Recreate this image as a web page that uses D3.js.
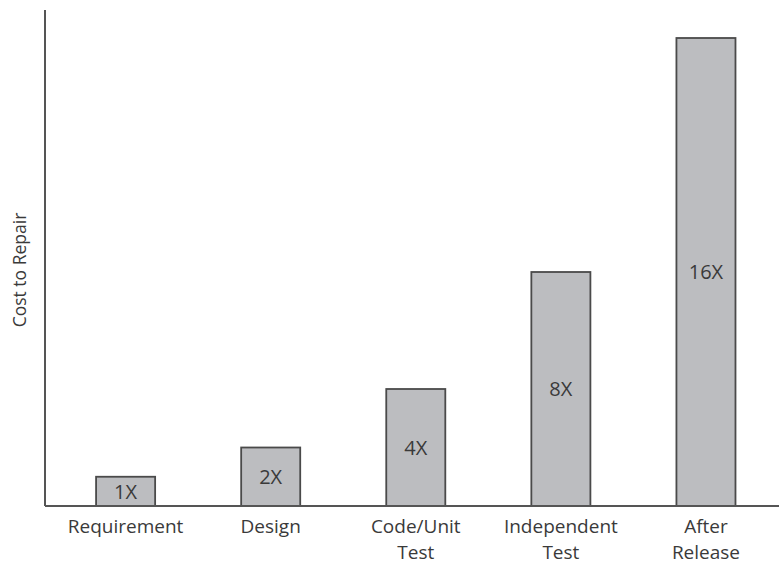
<!DOCTYPE html>
<html><head><meta charset="utf-8">
<script src="https://cdn.jsdelivr.net/npm/d3@7"></script>
<style>body{margin:0;background:#fff}svg{display:block}</style>
</head><body>
<svg id="c" width="779" height="565"></svg>
<script>
const categories = [["Requirement"], ["Design"], ["Code/Unit", "Test"], ["Independent", "Test"], ["After", "Release"]];
const values = [1, 2, 4, 8, 16];
const valueLabels = ["1X", "2X", "4X", "8X", "16X"];
const yTitle = "Cost to Repair";

const svg = d3.select("#c");
const font = "'Open Sans', sans-serif";
const x0 = 45, y0 = 506;
const x = d3.scaleBand().domain(d3.range(values.length)).range([x0, 779])
  .paddingInner(0.593).paddingOuter(0.326).align(0.54);
const y = d3.scaleLinear().domain([0, 16]).range([y0, 38]);

svg.selectAll("rect.bar").data(values).join("rect").attr("class", "bar")
  .attr("x", (d, i) => x(i)).attr("y", d => y(d))
  .attr("width", x.bandwidth()).attr("height", d => y0 - y(d))
  .attr("fill", "#bcbdc0").attr("stroke", "#4a4a4a").attr("stroke-width", 1.8);

svg.selectAll("text.val").data(values).join("text").attr("class", "val")
  .attr("x", (d, i) => x(i) + x.bandwidth() / 2)
  .attr("y", d => (y(d) + y0) / 2)
  .attr("dy", "0.36em").attr("text-anchor", "middle")
  .attr("font-family", font).attr("font-size", 20).attr("fill", "#3a3a3a")
  .text((d, i) => valueLabels[i]);

// axes
svg.append("line").attr("x1", x0).attr("x2", x0).attr("y1", 10).attr("y2", y0)
  .attr("stroke", "#555").attr("stroke-width", 2);
svg.append("line").attr("x1", x0).attr("x2", 779).attr("y1", y0).attr("y2", y0)
  .attr("stroke", "#555").attr("stroke-width", 2);

const lab = svg.selectAll("text.cat").data(categories).join("text").attr("class", "cat")
  .attr("text-anchor", "middle").attr("font-family", font).attr("font-size", 19).attr("fill", "#3a3a3a");
lab.selectAll("tspan").data((d, i) => d.map(t => ({t, i}))).join("tspan")
  .attr("x", d => x(d.i) + x.bandwidth() / 2)
  .attr("y", (d, j) => 533 + j * 26.2)
  .text(d => d.t);

svg.append("text").attr("transform", "translate(26,270) rotate(-90)")
  .attr("text-anchor", "middle").attr("font-family", font).attr("font-size", 17.5)
  .attr("fill", "#3a3a3a").text(yTitle);
</script>
</body></html>
